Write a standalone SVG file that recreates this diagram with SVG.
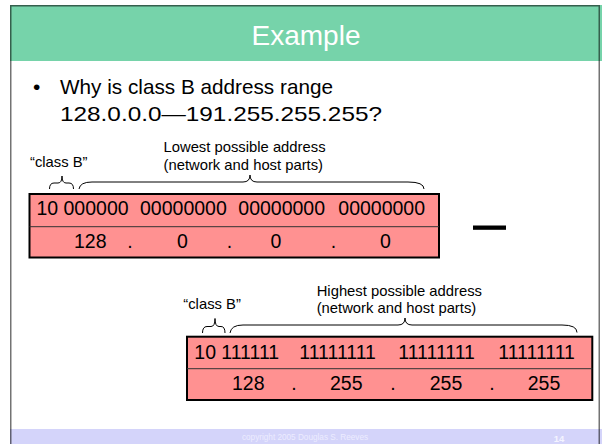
<svg xmlns="http://www.w3.org/2000/svg" width="602" height="444" viewBox="0 0 602 444">
<style>
text{font-family:"Liberation Sans",Arial,sans-serif;fill:#000}
.lbl{font-size:14.8px}
.bits{font-size:19.5px}
.num{font-size:19.5px}
.box{fill:#FF9191;stroke:#000;stroke-width:2}
.div{stroke:#333;stroke-width:1}
.brace{fill:none;stroke:#000;stroke-width:1}
.frame{stroke:#000;stroke-opacity:.55;stroke-width:1.5;fill:none}
</style>
<rect width="602" height="444" fill="#fff"/>
<g id="header">
<rect x="10" y="5" width="592" height="56" fill="#76D3AA"/>
<text x="306" y="45" text-anchor="middle" style="font-size:28px;fill:#fff">Example</text>
</g>
<g id="footer">
<rect x="10" y="429" width="592" height="15" fill="#D4D4FA"/>
<text x="305" y="439.5" text-anchor="middle" style="font-size:8.2px;fill:#ECECFF">copyright 2005 Douglas S. Reeves</text>
<text x="559" y="441.5" text-anchor="middle" style="font-size:9.5px;font-weight:bold;fill:#F4F4FF">14</text>
</g>
<g id="frame">
<path class="frame" d="M10.75,444 V5.75 H599.25 V444"/>
</g>
<g id="question">
<text x="33" y="94" style="font-size:21px">•</text>
<text x="60" y="94" style="font-size:21px" textLength="273" lengthAdjust="spacingAndGlyphs">Why is class B address range</text>
<text x="60" y="121" style="font-size:21px" textLength="322" lengthAdjust="spacingAndGlyphs">128.0.0.0—191.255.255.255?</text>
</g>
<g id="low-labels">
<text class="lbl" x="30" y="166.5">“class B”</text>
<text class="lbl" x="163.5" y="151.5">Lowest possible address</text>
<text class="lbl" x="163.5" y="169.5">(network and host parts)</text>
</g>
<g id="braces">
<path class="brace" d="M49.5,189 Q49.5,183 54,183 L58,183 Q62,183 62,176 Q62,183 66,183 L69,183 Q73.5,183 73.5,189"/>
<path class="brace" d="M79,189 Q80,182 92,182 L243,182 Q250,182 250,175 Q250,182 257,182 L408,182 Q424,182 424,189"/>
<path class="brace" d="M202.5,333 Q202.5,326.5 207,326.5 L211,326.5 Q215,326.5 215,318.5 Q215,326.5 219,326.5 L221,326.5 Q225,326.5 225,333"/>
<path class="brace" d="M230,333 Q231,325 243,325 L398,325 Q405,325 405,318 Q405,325 412,325 L562,325 Q577,325 577,332.5"/>
</g>
<g id="box-low">
<rect class="box" x="29.5" y="194" width="409.5" height="63.5"/>
<line class="div" x1="29.5" y1="226.7" x2="439" y2="226.7"/>
<text class="bits" x="36.5" y="215">10</text>
<text class="bits" x="63.5" y="215">000000</text>
<text class="bits" x="140" y="215">00000000</text>
<text class="bits" x="238.3" y="215">00000000</text>
<text class="bits" x="338.3" y="215">00000000</text>
<text class="num" x="74" y="248">128</text>
<text class="num" x="130" y="248" text-anchor="middle">.</text>
<text class="num" x="182.5" y="248" text-anchor="middle">0</text>
<text class="num" x="229.5" y="248" text-anchor="middle">.</text>
<text class="num" x="276" y="248" text-anchor="middle">0</text>
<text class="num" x="333.5" y="248" text-anchor="middle">.</text>
<text class="num" x="385.5" y="248" text-anchor="middle">0</text>
</g>
<g id="dash">
<rect x="473" y="225.5" width="33" height="4.3" fill="#000"/>
</g>
<g id="high-labels">
<text class="lbl" x="183.3" y="309.3">“class B”</text>
<text class="lbl" x="316.7" y="296">Highest possible address</text>
<text class="lbl" x="316.7" y="312.7">(network and host parts)</text>
</g>
<g id="box-high">
<rect class="box" x="187" y="336.7" width="405.3" height="63.3"/>
<line class="div" x1="187" y1="368.7" x2="592.3" y2="368.7"/>
<text class="bits" x="194.3" y="359.3">10</text>
<text class="bits" x="221.3" y="359.3">111111</text>
<text class="bits" x="299.3" y="359.3">11111111</text>
<text class="bits" x="398.3" y="359.3">11111111</text>
<text class="bits" x="498.3" y="359.3">11111111</text>
<text class="num" x="232" y="390">128</text>
<text class="num" x="294" y="390" text-anchor="middle">.</text>
<text class="num" x="346.3" y="390" text-anchor="middle">255</text>
<text class="num" x="393" y="390" text-anchor="middle">.</text>
<text class="num" x="446" y="390" text-anchor="middle">255</text>
<text class="num" x="492" y="390" text-anchor="middle">.</text>
<text class="num" x="544" y="390" text-anchor="middle">255</text>
</g>
</svg>
